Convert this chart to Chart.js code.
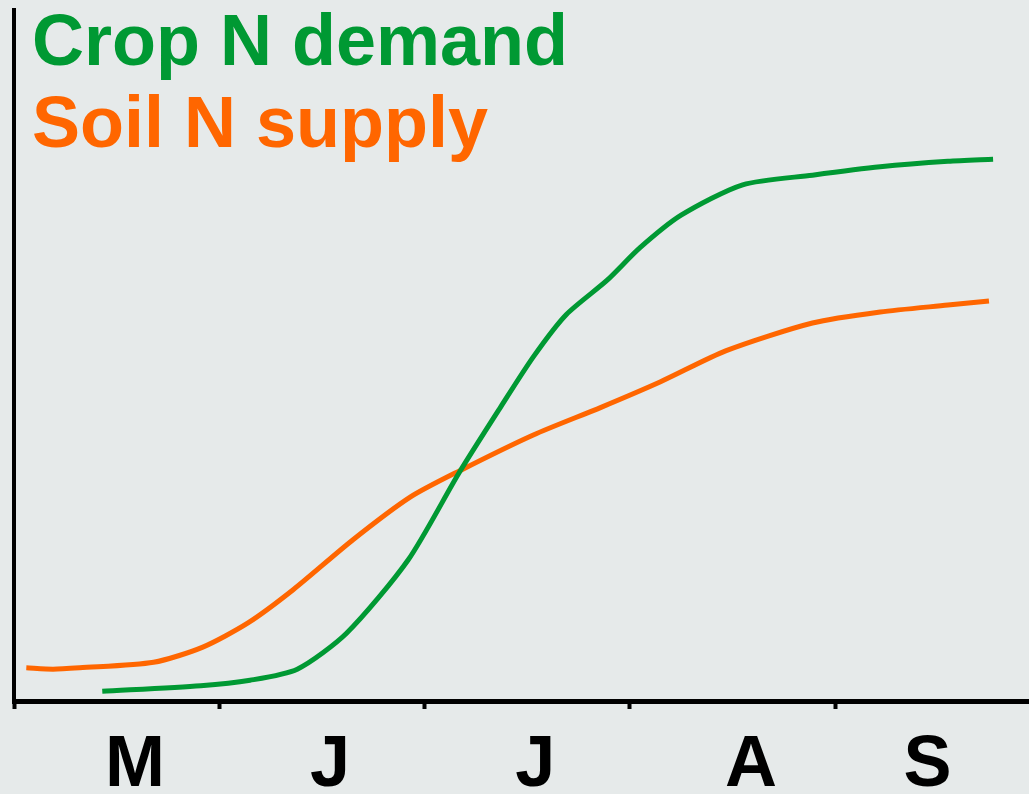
<!DOCTYPE html>
<html>
<head>
<meta charset="utf-8">
<script src="https://cdn.jsdelivr.net/npm/chart.js@4"></script>
<style>
  html, body { margin: 0; padding: 0; background: #e6eaea; }
  #wrap { width: 1029px; height: 794px; }
</style>
</head>
<body>
<div id="wrap"><canvas id="nChart"></canvas></div>
<script>
// Season months, x in month units (tick marks sit on whole numbers)
const monthLabels = ['M', 'J', 'J', 'A', 'S'];
const monthLabelPos = [0.59, 1.54, 2.54, 3.59, 4.45];
const monthTicks = [0, 1, 2, 3, 4];

// Crop N demand
const demandX = [0.43, 0.91, 1.15, 1.38, 1.62, 1.92, 2.17, 2.37, 2.53, 2.69, 2.89, 3.05, 3.25, 3.55, 3.89, 4.22, 4.55, 4.77];
const demandY = [1.4, 2.2, 3.0, 4.6, 9.8, 20.4, 33.1, 42.5, 49.8, 55.9, 60.9, 65.6, 70.3, 74.7, 76.1, 77.3, 78.1, 78.4];

// Soil N supply
const supplyX = [0.06, 0.19, 0.32, 0.68, 0.92, 1.14, 1.36, 1.65, 1.93, 2.17, 2.53, 2.86, 3.15, 3.47, 3.89, 4.22, 4.55, 4.75];
const supplyY = [4.8, 4.6, 4.8, 5.6, 7.8, 11.3, 16.1, 23.3, 29.5, 33.3, 38.5, 42.5, 46.2, 50.7, 54.7, 56.3, 57.3, 57.9];

const toPoints = (xs, ys) => xs.map((x, i) => ({ x: x, y: ys[i] }));

const FONT = "'Liberation Sans', Arial, sans-serif";

// page background on the canvas
const bgPlugin = {
  id: 'bg',
  beforeDraw(chart) {
    const c = chart.ctx;
    c.save();
    c.fillStyle = '#e6eaea';
    c.fillRect(0, 0, chart.width, chart.height);
    c.restore();
  }
};

// coloured text legend in the top left corner
const textLegend = {
  id: 'textLegend',
  afterDraw(chart) {
    const c = chart.ctx;
    c.save();
    c.font = 'bold 72px ' + FONT;
    c.textBaseline = 'alphabetic';
    c.textAlign = 'left';
    chart.data.datasets.forEach((ds, i) => {
      c.fillStyle = ds.borderColor;
      c.fillText(ds.label, 32, 65 + i * 82);
    });
    c.restore();
  }
};

new Chart(document.getElementById('nChart'), {
  type: 'line',
  data: {
    datasets: [{
      label: 'Crop N demand',
      data: toPoints(demandX, demandY),
      borderColor: '#009933',
      borderWidth: 5,
      pointRadius: 0,
      tension: 0.25
    }, {
      label: 'Soil N supply',
      data: toPoints(supplyX, supplyY),
      borderColor: '#ff6600',
      borderWidth: 5,
      pointRadius: 0,
      tension: 0.25
    }]
  },
  options: {
    responsive: true,
    maintainAspectRatio: false,
    animation: false,
    layout: { autoPadding: false, padding: { top: 10, right: 0, left: 0, bottom: 0 } },
    plugins: {
      legend: { display: false },
      tooltip: { enabled: false }
    },
    scales: {
      x: {
        type: 'linear',
        min: 0,
        max: 4.945,
        afterBuildTicks: scale => {
          scale.ticks = monthTicks.map(v => ({ value: v }))
            .concat(monthLabelPos.map(v => ({ value: v })));
        },
        afterFit: scale => { scale.height = 93; },
        grid: {
          drawOnChartArea: false,
          drawTicks: true,
          tickLength: 8,
          tickWidth: 4,
          tickColor: ctx => monthTicks.includes(ctx.tick.value) ? '#000' : 'rgba(0,0,0,0)'
        },
        border: { display: true, color: '#000', width: 5 },
        ticks: {
          autoSkip: false,
          maxRotation: 0,
          padding: 14,
          color: '#000',
          font: { family: FONT, size: 72, weight: 'bold' },
          callback: v => {
            const i = monthLabelPos.indexOf(v);
            return i >= 0 ? monthLabels[i] : '';
          }
        }
      },
      y: {
        min: 0,
        max: 100,
        afterFit: scale => { scale.width = 14; },
        grid: { display: false },
        border: { display: true, color: '#000', width: 4 },
        ticks: { display: false }
      }
    }
  },
  plugins: [bgPlugin, textLegend]
});
</script>
</body>
</html>
